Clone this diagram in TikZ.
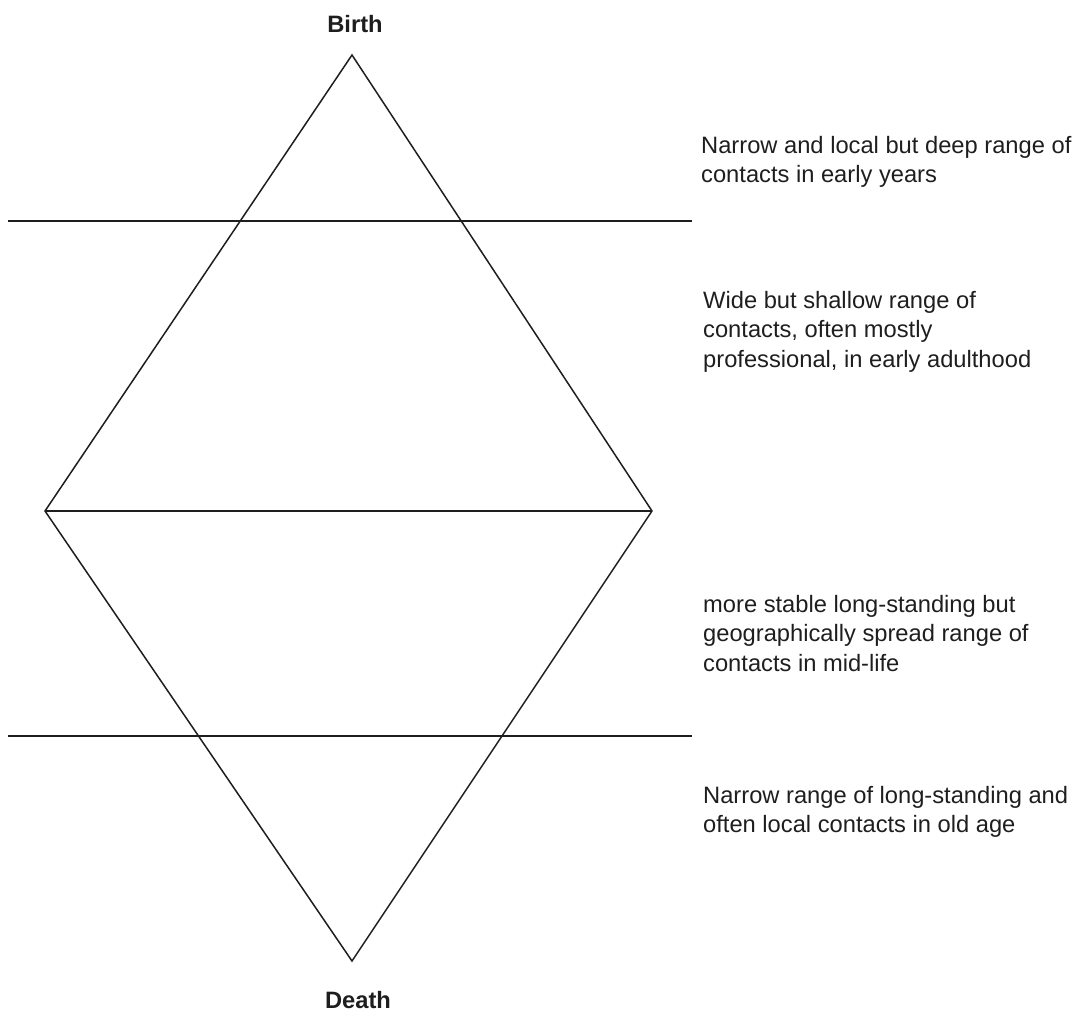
\documentclass[tikz,border=0pt]{standalone}
\usepackage{fontspec}
\setmainfont{Liberation Sans}
\definecolor{ink}{HTML}{1E1E1E}
\begin{document}
\begin{tikzpicture}[x=1pt,y=-1pt,
  edge/.style={draw=ink,line width=1.5pt},
  caption/.style={anchor=base west,inner sep=0pt,text=ink,font=\fontsize{23.7}{29.5}\selectfont},
  pole/.style={anchor=base,inner sep=0pt,text=ink,font=\fontsize{23.7}{29.5}\selectfont\bfseries}]
\useasboundingbox (0,0) rectangle (1079,1012);
\coordinate (top) at (352,55);
\coordinate (left) at (45,511);
\coordinate (right) at (652,511);
\coordinate (bot) at (352,961);
\coordinate (l1a) at (8,221);
\coordinate (l1b) at (692,221);
\coordinate (l2a) at (8,736);
\coordinate (l2b) at (692,736);
\draw[edge,line join=miter] (top) -- (right) -- (bot) -- (left) -- cycle;
\draw[edge] (left) -- (right);
\draw[edge] (l1a) -- (l1b);
\draw[edge] (l2a) -- (l2b);
\node[pole] (birth) at (355,32) {Birth};
\node[pole] (death) at (358,1008) {Death};
\node[caption] (t1) at (701,153) {\begin{tabular}[t]{@{}l@{}}Narrow and local but deep range of\\contacts in early years\end{tabular}};
\node[caption] (t2) at (703,308) {\begin{tabular}[t]{@{}l@{}}Wide but shallow range of\\contacts, often mostly\\professional, in early adulthood\end{tabular}};
\node[caption] (t3) at (703,612) {\begin{tabular}[t]{@{}l@{}}more stable long-standing but\\geographically spread range of\\contacts in mid-life\end{tabular}};
\node[caption] (t4) at (703,803) {\begin{tabular}[t]{@{}l@{}}Narrow range of long-standing and\\often local contacts in old age\end{tabular}};
\end{tikzpicture}
\end{document}
